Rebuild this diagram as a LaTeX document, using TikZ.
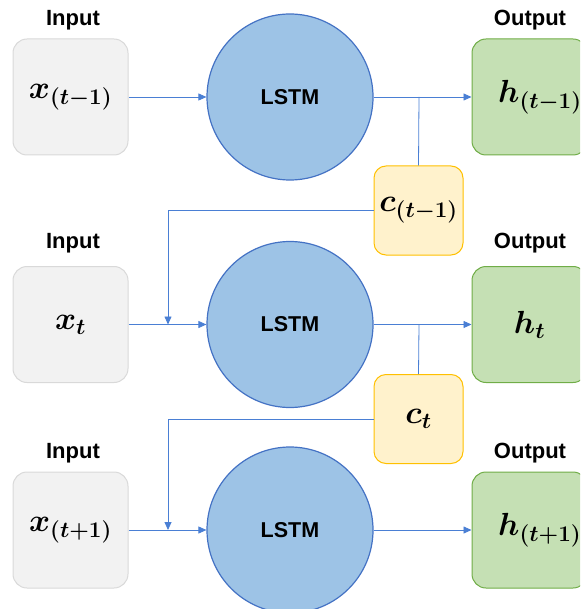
\RequirePackage{fix-cm}
\documentclass[tikz,border=0pt]{standalone}
\usepackage{fontspec}
\setmainfont{Liberation Sans}
\usepackage{amsmath,bm}
\usetikzlibrary{arrows.meta}
\definecolor{inFill}{HTML}{F2F2F2}
\definecolor{inLine}{HTML}{D9D9D9}
\definecolor{cellFill}{HTML}{9DC3E6}
\definecolor{cellLine}{HTML}{4472C4}
\definecolor{outFill}{HTML}{C5E0B4}
\definecolor{outLine}{HTML}{70AD47}
\definecolor{memFill}{HTML}{FFF2CC}
\definecolor{memLine}{HTML}{FFC000}
\definecolor{wire}{HTML}{4A7FD4}
\tikzset{
  inbox/.style={draw=inLine, fill=inFill, line width=1pt, rounded corners=14pt,
    minimum width=115pt, minimum height=116pt, inner sep=0pt},
  outbox/.style={draw=outLine, fill=outFill, line width=1pt, rounded corners=14pt,
    minimum width=115pt, minimum height=116pt, inner sep=0pt},
  membox/.style={draw=memLine, fill=memFill, line width=1pt, rounded corners=12pt,
    minimum width=89pt, minimum height=89pt, inner sep=0pt},
  cell/.style={circle, draw=cellLine, fill=cellFill, line width=1.2pt,
    minimum size=166pt, inner sep=0pt, font=\fontsize{21.5}{25}\selectfont\bfseries},
  caption/.style={font=\fontsize{22}{26}\selectfont\bfseries, inner sep=0pt},
  mathtxt/.style={font=\fontsize{32}{38}\selectfont, inner sep=0pt},
  wireline/.style={draw=wire, line width=0.8pt},
  arr/.style={wireline, -{Triangle[length=8pt,width=7pt]}},
}
\begin{document}
\begin{tikzpicture}[x=1pt,y=-1pt]
\useasboundingbox (0,0) rectangle (580,609);
\clip (0,0) rectangle (580,609);

% row 1
\node[caption] (lin1) at (73,20) {Input};
\node[caption] (lout1) at (530,20) {Output};
\node[inbox] (in1) at (70.5,97) {};
\node[mathtxt] at (in1) {$\bm{x_{(t-1)}}$};
\node[cell] (c1) at (290,97) {LSTM};
\node[outbox] (out1) at (529.5,97) {};
\node[mathtxt, anchor=west] at (498,97) {$\bm{h_{(t-1)}}$};
\node[membox] (m1) at (418.5,210.5) {};
\node[mathtxt] at (m1) {$\bm{c_{(t-1)}}$};

% row 2
\node[caption] (lin2) at (73,243) {Input};
\node[caption] (lout2) at (530,243) {Output};
\node[inbox] (in2) at (70.5,324.5) {};
\node[mathtxt] at (in2) {$\bm{x_{t}}$};
\node[cell] (c2) at (290,324.5) {LSTM};
\node[outbox] (out2) at (529.5,324.5) {};
\node[mathtxt] at (out2) {$\bm{h_{t}}$};
\node[membox] (m2) at (418.5,419) {};
\node[mathtxt] at (m2) {$\bm{c_{t}}$};

% row 3
\node[caption] (lin3) at (73,453) {Input};
\node[caption] (lout3) at (530,453) {Output};
\node[inbox] (in3) at (70.5,530) {};
\node[mathtxt] at (in3) {$\bm{x_{(t+1)}}$};
\node[cell] (c3) at (290,530) {LSTM};
\node[outbox] (out3) at (529.5,530) {};
\node[mathtxt, anchor=west] at (498,530) {$\bm{h_{(t+1)}}$};

% merge points of the cell state and junctions of the hidden state
\coordinate (j1) at (419,97);
\coordinate (j2) at (419,324.5);
\coordinate (k2) at (168,324.5);
\coordinate (k3) at (168,530);

% inputs into the cells
\draw[arr] (in1) -- (c1);
\draw[arr] (in2) -- (c2);
\draw[arr] (in3) -- (c3);

% hidden outputs
\draw[arr] (c1) -- (out1);
\draw[arr] (c2) -- (out2);
\draw[arr] (c3) -- (out3);

% cell state taps
\draw[wireline] (j1) -- (m1.north);
\draw[wireline] (j2) -- (m2.north);

% cell state fed to the next step
\draw[arr] (m1.west) -| (k2);
\draw[arr] (m2.west) -| (k3);
\end{tikzpicture}
\end{document}
